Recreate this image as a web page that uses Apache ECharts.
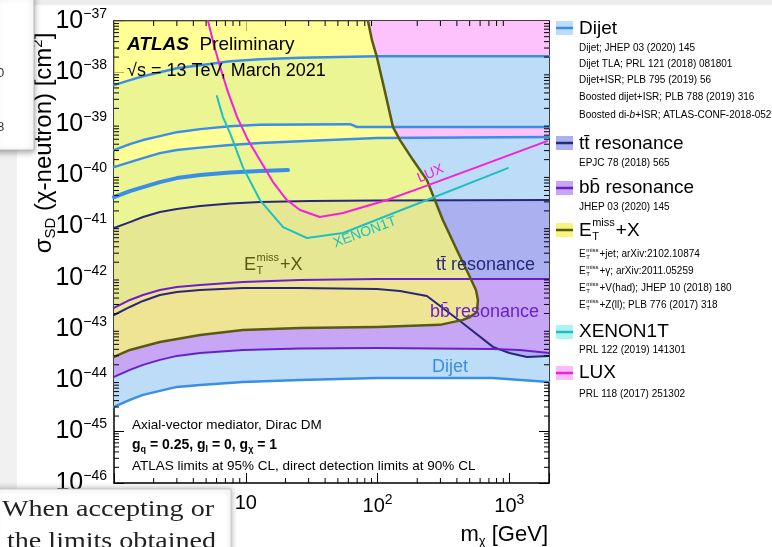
<!DOCTYPE html>
<html><head><meta charset="utf-8">
<script src="https://cdn.jsdelivr.net/npm/echarts/dist/echarts.min.js"></script>
<style>html,body{margin:0;padding:0;background:#fff}#c{width:772px;height:547px}</style>
</head><body><div id="c"></div>
<script>
// ---------------- DATA (mass in GeV, cross-section in cm^2) ----------------
const massRange = [1, 2000];
const sigmaRange = [0.99e-46, 1.01e-37];
const yTickExponents = [-37, -38, -39, -40, -41, -42, -43, -44, -45, -46];
const xTickValues = [1, 10, 100, 1000];
const xTickText = [['1', ''], ['10', ''], ['10', '2'], ['10', '3']];

const dijetLine1 = [[1,5.66e-39],[1.32,7.1e-39],[1.66,8.47e-39],[2.23,1.01e-38],[3.0,1.21e-38],[4.5,1.39e-38],[7.6,1.66e-38],[12.8,1.82e-38],[25.8,1.95e-38],[99,2.08e-38],[2000,2.08e-38]];
const dijetLine2 = [[1,3.07e-40],[1.32,4.02e-40],[1.66,4.81e-40],[2.23,5.75e-40],[3.0,6.87e-40],[4.5,7.87e-40],[7.6,9.0e-40],[12.8,9.63e-40],[62,9.84e-40],[70,8.61e-40],[2000,8.61e-40]];
const dijetLine3 = [[1,1.43e-40],[1.32,1.79e-40],[1.66,2.14e-40],[2.23,2.68e-40],[3.0,3.07e-40],[4.5,3.43e-40],[7.6,3.84e-40],[12.8,4.2e-40],[25.8,4.59e-40],[99,5.26e-40],[2000,5.5e-40]];
const dijetLine4 = [[1,3.72e-41],[1.32,4.88e-41],[1.66,5.83e-41],[2.23,7.29e-41],[3.0,8.73e-41],[4.5,1.0e-40],[7.6,1.12e-40],[12.8,1.2e-40],[20.9,1.25e-40]];
const dijetBottom = [[1,3.02e-45],[1.32,4.13e-45],[1.66,5.17e-45],[2.23,6.19e-45],[3.0,7.41e-45],[4.5,8.1e-45],[9.5,9.27e-45],[25.8,1.01e-44],[99,1.11e-44],[750,1.11e-44],[2000,9.27e-45]];

const ttbarTop = [[1,9.27e-42],[1.32,1.21e-41],[1.66,1.52e-41],[2.23,1.9e-41],[3.0,2.17e-41],[4.5,2.49e-41],[7.6,2.79e-41],[12.8,2.98e-41],[30.7,3.11e-41],[99,3.19e-41],[2000,3.26e-41]];
const ttbarBottom = [[1,1.87e-43],[1.32,2.68e-43],[1.66,3.51e-43],[2.23,4.59e-43],[3.0,5.25e-43],[4.5,5.74e-43],[9.5,6.28e-43],[25.8,6.28e-43],[99,6.0e-43],[148,5.49e-43],[237,4.4e-43],[422,1.43e-43],[751,4.46e-44],[1000,3.4e-44],[1360,2.84e-44],[2000,2.98e-44]];

const bbTop = [[1,2.57e-43],[1.32,3.67e-43],[1.66,4.59e-43],[2.23,5.74e-43],[3.0,6.57e-43],[4.5,7.19e-43],[9.5,8.22e-43],[25.8,9.0e-43],[99,9.42e-43],[2000,9.42e-43]];
const bbBottom = [[1,1.16e-44],[1.32,1.59e-44],[1.66,1.99e-44],[2.23,2.49e-44],[3.0,2.98e-44],[4.5,3.4e-44],[9.5,3.89e-44],[25.8,4.17e-44],[99,4.26e-44],[751,4.07e-44],[1200,3.89e-44],[2000,3.4e-44]];

const etmissEdge = [[84.6,1.01e-37],[90.7,4.27e-38],[98.9,1.99e-38],[114,4.14e-39],[131,8.61e-40],[148,4.81e-40],[186,1.96e-40],[237,7.98e-41],[313,1.33e-41],[400,3.46e-42],[502,1.03e-42],[558,5.74e-43],[578,3.67e-43],[568,2.14e-43],[502,1.71e-43],[445,1.5e-43],[297,1.2e-43],[99,1.09e-43],[25.8,1.04e-43],[9.5,9.55e-44],[4.5,7.64e-44],[2.23,5.57e-44],[1.32,3.89e-44],[1,2.84e-44]];

const luxLine = [[5.17,1.01e-37],[5.74,3.4e-38],[6.4,1.27e-38],[7.33,4.14e-39],[8.6,1.35e-39],[10.4,4.81e-40],[12.8,1.96e-40],[16.1,7.29e-41],[20.5,3.26e-41],[25.8,2.09e-41],[36.5,1.52e-41],[54.7,1.82e-41],[118,3.26e-41],[210,5.58e-41],[568,1.43e-40],[1930,4.59e-40]];
const xenonLine = [[6.04,3.46e-39],[6.71,1.35e-39],[7.6,6.58e-40],[9.5,1.43e-40],[12.8,3.26e-41],[19.2,9.7e-42],[29.1,5.93e-42],[54.7,7.41e-42],[237,3.26e-41],[975,1.37e-40]];

// ---------------- TEXT ----------------
const legendTitles = ['Dijet', 'tt\u0304 resonance', 'bb\u0304 resonance', null, 'XENON1T', 'LUX'];
const dijetRefs = ['Dijet; JHEP 03 (2020) 145','Dijet TLA; PRL 121 (2018) 081801','Dijet+ISR; PLB 795 (2019) 56','Boosted dijet+ISR; PLB 788 (2019) 316'];
const ttbarRefs = ['EPJC 78 (2018) 565'];
const bbRefs = ['JHEP 03 (2020) 145'];
const etmissRefs = ['+jet; arXiv:2102.10874','+\u03b3; arXiv:2011.05259','+V(had); JHEP 10 (2018) 180','+Z(ll); PLB 776 (2017) 318'];
const xenonRefs = ['PRL 122 (2019) 141301'];
const luxRefs = ['PRL 118 (2017) 251302'];

// ---------------- STYLE ----------------
const FONT = '"Liberation Sans", Arial, Helvetica, sans-serif';
const SERIF = '"Liberation Serif", "DejaVu Serif", serif';
const C = {
  pink:'#fdc2fb', dijetFill:'#bcdcf8', ttFill:'#aab0f0', bbFill:'#c8a6f6', etFill:'rgba(255,255,105,0.7)',
  dijetLine:'#3a8ee6', ttLine:'#28287a', bbLine:'#6a1fcc', etLine:'#5a5a12', xenon:'#1fc0c0', lux:'#f51fdc'
};

const mctx = document.createElement('canvas').getContext('2d');
function tw(text, size, weight) { mctx.font = (weight||'normal') + ' ' + size + 'px ' + FONT; return mctx.measureText(text).width; }

function polySeries(pts, fill, z) {
  return { type:'custom', z, silent:true, clip:true, animation:false, data:[[1,1e-40]],
    renderItem: (params, api) => ({ type:'polygon', shape:{ points: pts.map(p => api.coord(p)) }, style:{ fill } }) };
}
function lineSeries(pts, color, width, z) {
  return { type:'line', data:pts, symbol:'none', showSymbol:false, silent:true, animation:false, z,
    lineStyle:{ color, width, cap:'round', join:'round' } };
}
const pinkRegion = etmissEdge.slice(0, 8).concat(luxLine.filter(p => p[0] > 240)).concat([[2000,4.9e-40],[2000,1.01e-37]]);
const dijetBandA = dijetLine1.concat(dijetLine2.slice().reverse());
const dijetBandB = dijetLine3.concat(dijetBottom.slice().reverse());
const ttRegion = ttbarTop.concat(ttbarBottom.slice().reverse());
const bbRegion = bbTop.concat(bbBottom.slice().reverse());
const etRegion = [[1,1.01e-37]].concat(etmissEdge);

const tickSeries = { type:'custom', z:20, silent:true, animation:false, data:[[1,1e-40]],
  renderItem: (params, api) => {
    const ch = [];
    const x0 = api.coord([massRange[0], 1e-40])[0], x1 = api.coord([massRange[1], 1e-40])[0];
    const y0 = api.coord([1, sigmaRange[0]])[1], y1 = api.coord([1, sigmaRange[1]])[1];
    const st = { stroke:'#000', lineWidth:1 };
    for (let e = -46; e < -37; e++) for (let k = 2; k < 10; k++) {
      const y = api.coord([1, k * Math.pow(10, e)])[1];
      ch.push({type:'line', shape:{x1:x0, y1:y, x2:x0+5, y2:y}, style:st});
      ch.push({type:'line', shape:{x1:x1-5, y1:y, x2:x1, y2:y}, style:st});
    }
    for (let e = 0; e < 4; e++) for (let k = 2; k < 10; k++) {
      const v = k * Math.pow(10, e); if (v >= massRange[1]) continue;
      const x = api.coord([v, 1e-40])[0];
      ch.push({type:'line', shape:{x1:x, y1:y0, x2:x, y2:y0-5}, style:st});
      ch.push({type:'line', shape:{x1:x, y1:y1, x2:x, y2:y1+5}, style:st});
    }
    return { type:'group', children: ch };
  } };

const series = [
  polySeries(pinkRegion, C.pink, 1),
  polySeries(dijetBandA, C.dijetFill, 2),
  polySeries(dijetBandB, C.dijetFill, 2),
  polySeries(ttRegion, C.ttFill, 3),
  polySeries(bbRegion, C.bbFill, 4),
  polySeries(etRegion, C.etFill, 5),
  lineSeries(dijetLine1, C.dijetLine, 2.5, 10),
  lineSeries(dijetLine2, C.dijetLine, 2.5, 10),
  lineSeries(dijetLine3, C.dijetLine, 2.5, 10),
  lineSeries(dijetLine4, C.dijetLine, 4, 10),
  lineSeries(dijetBottom, C.dijetLine, 2.5, 10),
  lineSeries(ttbarTop, C.ttLine, 2, 11),
  lineSeries(ttbarBottom, C.ttLine, 2, 11),
  lineSeries(bbTop, C.bbLine, 2, 12),
  lineSeries(bbBottom, C.bbLine, 2, 12),
  lineSeries(etmissEdge, C.etLine, 2.5, 13),
  lineSeries(xenonLine, C.xenon, 2, 14),
  lineSeries(luxLine, C.lux, 2, 15),
  tickSeries
];

// ---------------- GRAPHIC TEXT ----------------
function T(x, y, text, o) {
  o = o || {};
  return { type:'text', x, y, rotation:o.rot||0, scaleX:o.sx||1, z:o.z||100, silent:true,
    style:{ text, fill:o.color||'#000', fontSize:o.size||14, fontFamily:o.family||FONT,
      fontWeight:o.weight||'normal', fontStyle:o.style||'normal', align:o.align||'left',
      verticalAlign:o.va||'middle', rich:o.rich } };
}
function etmiss(x, y, size, color, rest) {
  const wE = tw('E', size), s2 = Math.round(size * 0.6), wm = tw('miss', s2);
  return [
    T(x, y, 'E', {size, color}),
    T(x + wE + 0.5, y - size * 0.4, 'miss', {size:s2, color}),
    T(x + wE + 0.5, y + size * 0.32, 'T', {size:s2, color}),
    T(x + wE + wm + 1.5, y, rest, {size, color})
  ];
}
const g = [];
// plot annotations
g.push(T(127, 45, '{a|ATLAS}{b|  Preliminary}', {rich:{a:{fontSize:19, fontWeight:'bold', fontStyle:'italic', fontFamily:FONT}, b:{fontSize:19, fontFamily:FONT}}}));
g.push(T(127, 71, '\u221as = 13 TeV, March 2021', {size:18}));
g.push(T(418, 179, 'LUX', {size:14, color:C.lux, rot:0.4}));
g.push(T(334, 244, 'XENON1T', {size:14, color:C.xenon, rot:0.36}));
g.push(...etmiss(244, 265, 18, C.etLine, '+X'));
g.push(T(436, 265, 'tt\u0304 resonance', {size:18, color:C.ttLine}));
g.push(T(430, 312, 'bb\u0304 resonance', {size:18, color:C.bbLine}));
g.push(T(432, 367, 'Dijet', {size:18, color:C.dijetLine}));
g.push(T(132, 425, 'Axial-vector mediator, Dirac DM', {size:13.5}));
g.push(T(132, 445, '{g|g}{u|q}{g| = 0.25, g}{u|l}{g| = 0, g}{u|\u03c7}{g| = 1}', {rich:{
  g:{fontSize:14, fontWeight:'bold', fontFamily:FONT}, u:{fontSize:9, fontWeight:'bold', fontFamily:FONT, padding:[9,0,0,0]}}}));
g.push(T(132, 466, 'ATLAS limits at 95% CL, direct detection limits at 90% CL', {size:13.5}));

// axis titles
g.push(T(44, 143, '{a|\u03c3}{d|SD}{a| (\u03c7-neutron) [cm}{p|2}{a|]}', {rot:Math.PI/2, align:'center', rich:{
  a:{fontSize:24, fontFamily:FONT}, d:{fontSize:15, fontFamily:FONT, padding:[13,0,0,0]}, p:{fontSize:15, fontFamily:FONT, padding:[0,0,13,0]}}}));
g.push(T(548, 535, '{a|m}{d|\u03c7}{a| [GeV]}', {align:'right', rich:{
  a:{fontSize:22, fontFamily:FONT}, d:{fontSize:13, fontFamily:FONT, padding:[12,0,0,0]}}}));

// legend
const LX = 556, TX = 579;
function swatch(yc, fill, line) {
  g.push({type:'rect', z:100, silent:true, shape:{x:LX, y:yc-7, width:17, height:14}, style:{fill}});
  g.push({type:'line', z:101, silent:true, shape:{x1:LX, y1:yc, x2:LX+17, y2:yc}, style:{stroke:line, lineWidth:2.5}});
}
swatch(28, C.dijetFill, C.dijetLine);
g.push(T(TX, 29, legendTitles[0], {size:19}));
[48, 64, 80, 97].forEach((y, i) => g.push(T(TX, y, dijetRefs[i], {size:10})));
g.push(T(TX, 115, '{n|Boosted di-}{i|b}{n|+ISR; ATLAS-CONF-2018-052}', {rich:{n:{fontSize:10, fontFamily:FONT}, i:{fontSize:10, fontStyle:'italic', fontFamily:FONT}}}));
swatch(143, C.ttFill, C.ttLine);
g.push(T(TX, 144, legendTitles[1], {size:19}));
g.push(T(TX, 163, ttbarRefs[0], {size:10}));
swatch(188, C.bbFill, C.bbLine);
g.push(T(TX, 188, legendTitles[2], {size:19}));
g.push(T(TX, 207, bbRefs[0], {size:10}));
swatch(230, '#f6f67a', C.etLine);
g.push(...etmiss(TX, 231, 19, '#000', '+X'));
[254, 271, 288, 305].forEach((y, i) => g.push(...etmiss(TX, y, 10, '#000', etmissRefs[i])));
swatch(332, '#aef2f2', C.xenon);
g.push(T(TX, 332, legendTitles[4], {size:19}));
g.push(T(TX, 350, xenonRefs[0], {size:10}));
swatch(373, '#fcbcf8', C.lux);
g.push(T(TX, 373, legendTitles[5], {size:19}));
g.push(T(TX, 394, luxRefs[0], {size:10}));

// surrounding page fragments
g.push({type:'rect', z:150, silent:true, shape:{x:0, y:0, width:772, height:5}, style:{fill:'#ededed'}});
g.push({type:'rect', z:150, silent:true, shape:{x:0, y:150, width:17, height:400}, style:{fill:'#f1f1f1'}});
g.push({type:'rect', z:160, silent:true, shape:{x:-5, y:-5, width:39, height:155}, style:{fill:'#fff', stroke:'#b8b8b8', lineWidth:1, shadowBlur:6, shadowColor:'rgba(0,0,0,0.35)', shadowOffsetY:2}});
g.push(T(-3, 73, '0', {size:13, color:'#333', z:161}));
g.push(T(-3, 127, '8', {size:13, color:'#333', z:161}));
g.push({type:'rect', z:200, silent:true, shape:{x:-5, y:489, width:236, height:70}, style:{fill:'#fff', stroke:'#c8c8c8', lineWidth:1, shadowBlur:6, shadowColor:'rgba(0,0,0,0.3)'}});
g.push(T(2, 510, 'When accepting or', {size:24, sx:1.17, family:SERIF, color:'#222', z:201}));
g.push(T(7, 542, 'the limits obtained', {size:24, sx:1.17, family:SERIF, color:'#222', z:201}));

// ---------------- AXES ----------------
const axisLine = { show:true, onZero:false, lineStyle:{ color:'#000', width:1.5 } };
const majorTick = { show:true, inside:true, length:10, lineStyle:{ color:'#000', width:1 } };
function xLabel(v) {
  for (let i = 0; i < xTickValues.length; i++) {
    if (Math.abs(v - xTickValues[i]) < 1e-6 * xTickValues[i]) {
      const t = xTickText[i];
      return '{b|' + t[0] + '}' + (t[1] ? '{s|' + t[1] + '}' : '');
    }
  }
  return '';
}
function yLabel(v) {
  if (!(v > 0)) return '';
  const l = Math.log10(v), e = Math.round(l);
  return (Math.abs(l - e) < 1e-3 && yTickExponents.includes(e)) ? '{b|10}{s|\u2212' + (-e) + '}' : '';
}
const option = {
  animation:false,
  backgroundColor:'#fff',
  grid:{ left:114, right:223, top:21, bottom:64, containLabel:false, outerBoundsMode:'none' },
  xAxis:[
    { type:'log', logBase:10, min:massRange[0], max:massRange[1], position:'bottom', axisLine, axisTick:majorTick,
      splitLine:{show:false}, minorTick:{show:false},
      axisLabel:{ margin:10, color:'#000', fontFamily:FONT, fontSize:20, showMinLabel:true, showMaxLabel:true, hideOverlap:false,
        formatter: xLabel,
        rich:{ b:{fontSize:20, fontFamily:FONT, color:'#000'}, s:{fontSize:14, fontFamily:FONT, color:'#000', padding:[0,0,12,0]} } } },
    { type:'log', logBase:10, min:massRange[0], max:massRange[1], position:'top', axisLine, axisTick:majorTick,
      axisLabel:{show:false}, splitLine:{show:false} }
  ],
  yAxis:[
    { type:'log', logBase:10, min:sigmaRange[0], max:sigmaRange[1], position:'left', axisLine, axisTick:majorTick,
      splitLine:{show:false},
      axisLabel:{ margin:7, color:'#000', fontFamily:FONT, showMinLabel:true, showMaxLabel:true, hideOverlap:false,
        formatter: yLabel,
        rich:{ b:{fontSize:25, fontFamily:FONT, color:'#000'}, s:{fontSize:14, fontFamily:FONT, color:'#000', padding:[0,0,14,0]} } } },
    { type:'log', logBase:10, min:sigmaRange[0], max:sigmaRange[1], position:'right', axisLine, axisTick:majorTick,
      axisLabel:{show:false}, splitLine:{show:false} }
  ],
  series,
  graphic: { elements: g }
};
const chart = echarts.init(document.getElementById('c'));
chart.setOption(option);
</script></body></html>
